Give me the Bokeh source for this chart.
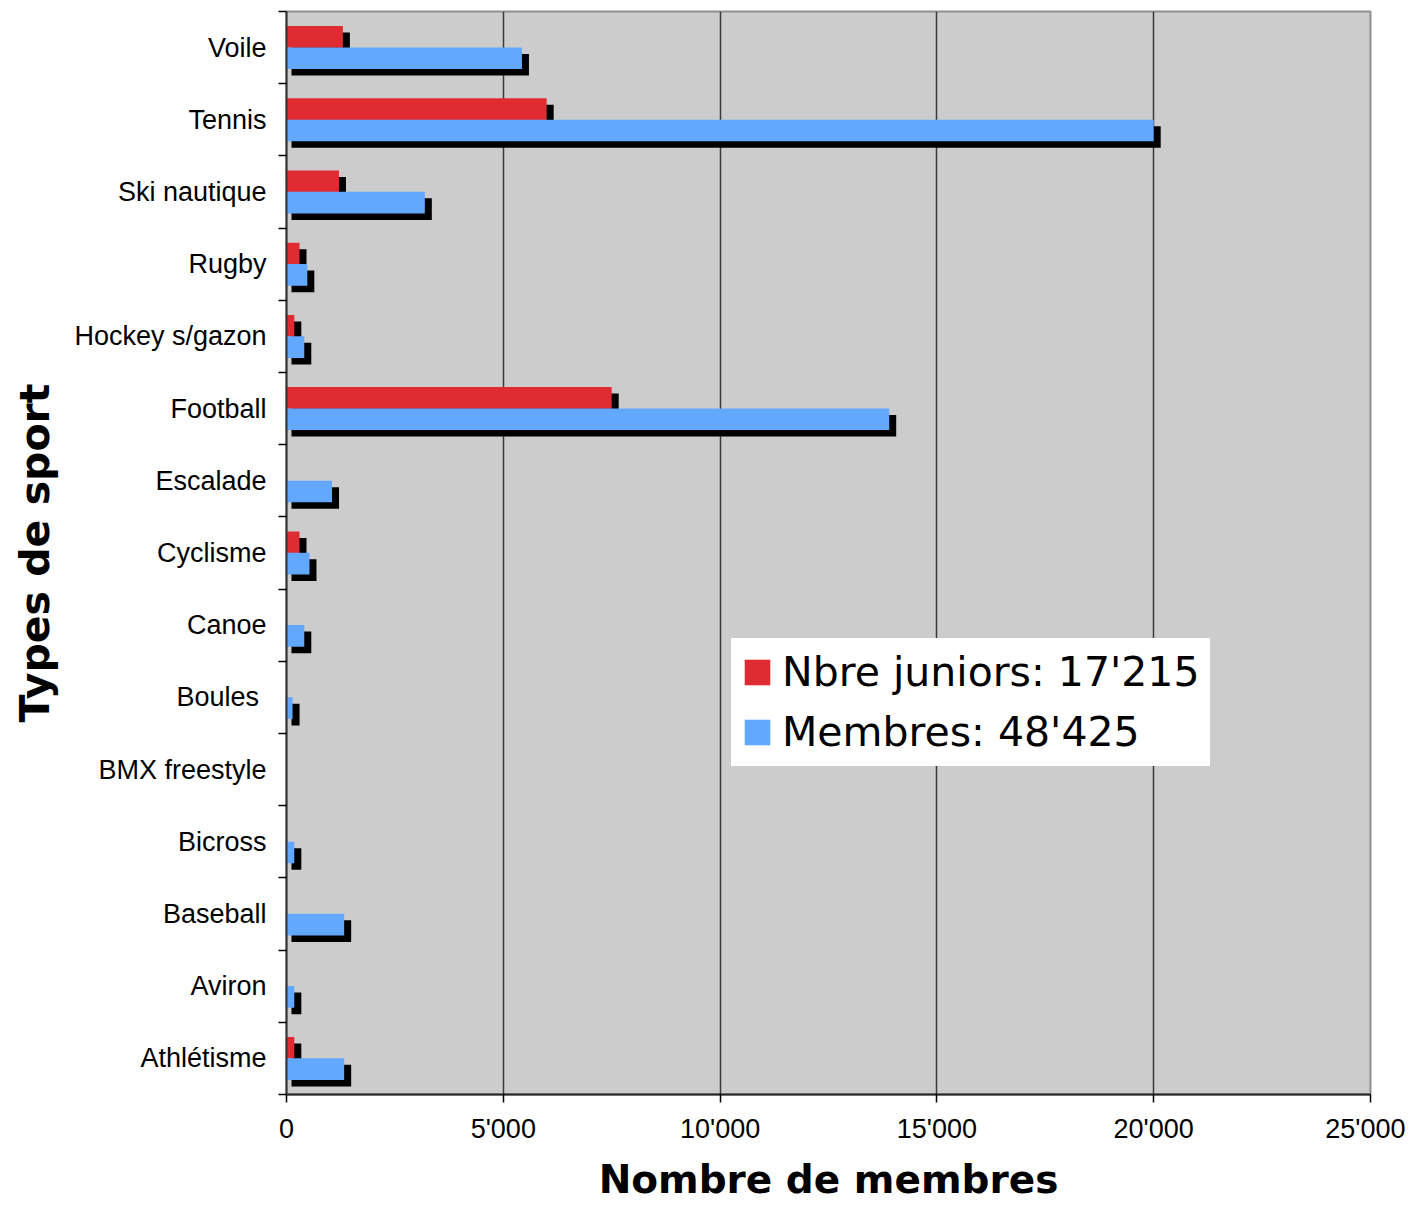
from bokeh.plotting import figure
from bokeh.models import FixedTicker, Legend, LegendItem, ColumnDataSource, Range1d
from bokeh.transform import dodge
from bokeh.embed import file_html
from bokeh.resources import INLINE

# ---------------- data ----------------
sports = ["Athlétisme", "Aviron", "Baseball", "Bicross", "BMX freestyle", "Boules ",
          "Canoe", "Cyclisme", "Escalade", "Football", "Hockey s/gazon", "Rugby",
          "Ski nautique", "Tennis", "Voile"]
juniors = [180, 0, 0, 0, 0, 0, 0, 300, 0, 7500, 180, 300, 1210, 6000, 1300]
membres = [1330, 180, 1330, 180, 0, 140, 410, 530, 1050, 13900, 410, 480, 3190, 20000, 5430]
legend_labels = ["Nbre juniors: 17'215", "Membres: 48'425"]
x_ticks = [0, 5000, 10000, 15000, 20000, 25000]
x_tick_labels = ["0", "5'000", "10'000", "15'000", "20'000", "25'000"]
x_title = "Nombre de membres"
y_title = "Types de sport"

RED = "#df2c33"
BLUE = "#63a8ff"

W, H = 1405, 1204
ML, MR, MT, MB = 286, 35, 11, 109
frame_w = W - ML - MR
frame_h = H - MT - MB
XMAX = 25000
N = len(sports)

# pixel offsets of the drop shadow converted to data units
dx = 7 * XMAX / frame_w
dx0 = 5 * XMAX / frame_w
dy = 6.5 * N / frame_h

centers = [i + 0.5 for i in range(N)]
src = ColumnDataSource(dict(y=centers, juniors=juniors, membres=membres))

def shadow_source(vals):
    ys = [c for c, v in zip(centers, vals) if v > 0]
    rs = [v + dx for v in vals if v > 0]
    return ColumnDataSource(dict(y=ys, right=rs))

sh_j = shadow_source(juniors)
sh_m = shadow_source(membres)

p = figure(width=W, height=H, output_backend="svg", toolbar_location=None,
           x_range=Range1d(0, XMAX), y_range=Range1d(0, N),
           min_border_left=ML, min_border_right=MR, min_border_top=MT,
           min_border_bottom=MB)
p.background_fill_color = "#cccccc"
p.border_fill_color = "white"
p.outline_line_color = "#8f8f8f"
p.outline_line_width = 2

BH = 0.3
OFF = 0.148
# shadows
p.hbar(y=dodge("y", -OFF - dy, range=p.y_range), left=dx0, right="right", height=BH,
       source=sh_m, fill_color="black", line_color=None)
p.hbar(y=dodge("y", OFF - dy, range=p.y_range), left=dx0, right="right", height=BH,
       source=sh_j, fill_color="black", line_color=None)
# bars
rj = p.hbar(y=dodge("y", OFF, range=p.y_range), left=0, right="juniors", height=BH,
            source=src, fill_color=RED, line_color=None)
rm = p.hbar(y=dodge("y", -OFF, range=p.y_range), left=0, right="membres", height=BH,
            source=src, fill_color=BLUE, line_color=None)

# x axis
p.xaxis.ticker = FixedTicker(ticks=x_ticks, minor_ticks=[])
p.xaxis.major_label_overrides = {t: l for t, l in zip(x_ticks, x_tick_labels)}
p.xaxis.major_label_text_font = "Liberation Sans"
p.xaxis.major_label_text_font_size = "27px"
p.xaxis.major_label_text_color = "black"
p.xaxis.major_tick_out = 8
p.xaxis.major_tick_in = 0
p.xaxis.major_tick_line_color = "black"
p.xaxis.major_tick_line_width = 1.5
p.xaxis.major_label_standoff = 11
p.xaxis.axis_line_color = "#222222"
p.xaxis.axis_line_width = 2
p.xaxis.axis_label = x_title
p.xaxis.axis_label_text_font = "DejaVu Sans"
p.xaxis.axis_label_text_font_style = "bold"
p.xaxis.axis_label_text_font_size = "39px"
p.xaxis.axis_label_text_color = "black"
p.xaxis.axis_label_standoff = 10

# y axis
p.yaxis.ticker = FixedTicker(ticks=centers, minor_ticks=list(range(N + 1)))
p.yaxis.major_label_overrides = {c: s for c, s in zip(centers, sports)}
p.yaxis.major_label_text_font = "Liberation Sans"
p.yaxis.major_label_text_font_size = "27px"
p.yaxis.major_label_text_color = "black"
p.yaxis.major_tick_out = 0
p.yaxis.major_tick_in = 0
p.yaxis.major_tick_line_color = None
p.yaxis.minor_tick_out = 8
p.yaxis.minor_tick_in = 0
p.yaxis.minor_tick_line_color = "black"
p.yaxis.minor_tick_line_width = 1.5
p.yaxis.major_label_standoff = 12
p.yaxis.axis_line_color = "#333333"
p.yaxis.axis_line_width = 2
p.yaxis.axis_label = y_title
p.yaxis.axis_label_text_font = "DejaVu Sans"
p.yaxis.axis_label_text_font_style = "bold"
p.yaxis.axis_label_text_font_size = "41px"
p.yaxis.axis_label_text_color = "black"
p.yaxis.axis_label_standoff = 12

# grid
p.ygrid.grid_line_color = None
p.xgrid.grid_line_color = "#3a3a3a"
p.xgrid.grid_line_width = 1.5

legend = Legend(items=[LegendItem(label=legend_labels[0], renderers=[rj]),
                       LegendItem(label=legend_labels[1], renderers=[rm])],
                location=(445, 328))
legend.label_text_font = "DejaVu Sans"
legend.label_text_font_size = "41px"
legend.label_text_color = "black"
legend.glyph_width = 32
legend.glyph_height = 32
legend.label_standoff = 9
legend.padding = 0
legend.spacing = 12
legend.margin = 0
legend.border_line_color = "white"
legend.border_line_width = 10
legend.background_fill_color = "white"
legend.background_fill_alpha = 1.0
p.add_layout(legend, "center")

open("out.html", "w").write(file_html(p, INLINE))
